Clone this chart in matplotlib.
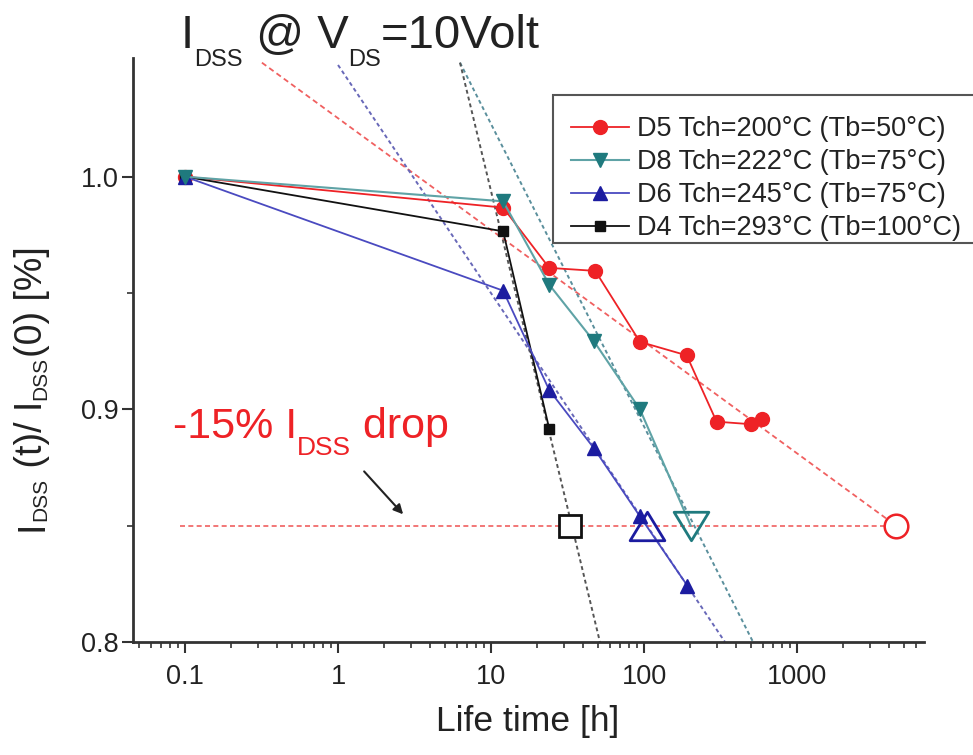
import matplotlib
matplotlib.use("Agg")
import matplotlib.pyplot as plt
from matplotlib.patches import Rectangle
from matplotlib.path import Path

plt.rcParams['font.family'] = ['Liberation Sans', 'DejaVu Sans']

# ---- data ----
d5_t = [0.1, 12, 24, 48, 94, 190, 298, 500, 588]
d5_v = [1.0, 0.9867, 0.9608, 0.9595, 0.929, 0.9232, 0.8947, 0.8936, 0.896]
d8_t = [0.1, 12, 24, 47, 94]
d8_v = [1.0, 0.9894, 0.9536, 0.9293, 0.900]
d6_t = [0.1, 12, 24, 47, 94, 192]
d6_v = [1.0, 0.951, 0.9083, 0.8833, 0.854, 0.8242]
d4_t = [0.1, 12, 24]
d4_v = [1.0, 0.9765, 0.8917]

# lifetime at -15% drop (extrapolated)
life_t = {'D5': 4440, 'D8': 202, 'D6': 105, 'D4': 33}
drop_level = 0.85

# extrapolation fit lines (endpoints)
d5_fit_t = [0.318, 4440]
d5_fit_v = [1.049, 0.85]
d8_fit_t = [6.27, 516]
d8_fit_v = [1.049, 0.80]
d6_fit_t = [1.0, 338]
d6_fit_v = [1.048, 0.80]
d4_fit_t = [6.27, 51.5]
d4_fit_v = [1.049, 0.80]

drop_line_t = [0.093, 4440]

labels = ['D5 Tch=200°C (Tb=50°C)', 'D8 Tch=222°C (Tb=75°C)',
          'D6 Tch=245°C (Tb=75°C)', 'D4 Tch=293°C (Tb=100°C)']
xtick_vals = [0.1, 1, 10, 100, 1000]
xtick_labels = ['0.1', '1', '10', '100', '1000']
ytick_vals = [0.8, 0.9, 1.0]
ytick_labels = ['0.8', '0.9', '1.0']

# ---- colours ----
red = '#ee2226'
teal_line = '#5fa3a6'
teal_mk = '#1f7a7e'
blue_line = '#4a4ac0'
blue_mk = '#1c1ca0'
black = '#111111'
txt = '#222222'

W, H = 973, 755
fig = plt.figure(figsize=(W / 100, H / 100), dpi=100)
ax = fig.add_axes([133/W, 1-642/H, (924-133)/W, (642-58)/H])

# fit lines
ax.plot(d5_fit_t, d5_fit_v, color='#f06060', lw=1.3, dashes=(3, 2), zorder=1)
ax.plot(d8_fit_t, d8_fit_v, color='#5a8f9c', lw=1.4, dashes=(2, 1.6), zorder=1)
ax.plot(d6_fit_t, d6_fit_v, color='#6868b8', lw=1.4, dashes=(2, 1.6), zorder=1)
ax.plot(d4_fit_t, d4_fit_v, color='#555555', lw=1.4, dashes=(2, 1.6), zorder=1)
ax.plot(drop_line_t, [drop_level, drop_level], color='#f06060', lw=1.2, dashes=(3, 2), zorder=1)

# teal line continues to its lifetime point
ax.plot([d8_t[-1], life_t['D8']], [d8_v[-1], drop_level], color=teal_line, lw=1.5, zorder=2)

h5, = ax.plot(d5_t, d5_v, color=red, lw=1.3, marker='o', ms=10, mfc=red, mec=red, zorder=3)
h4, = ax.plot(d4_t, d4_v, color=black, lw=1.3, marker='s', ms=7, mfc=black, mec=black, zorder=3.5)
h6, = ax.plot(d6_t, d6_v, color=blue_line, lw=1.3, marker='^', ms=10, mfc=blue_mk, mec=blue_mk, zorder=4)
h8, = ax.plot(d8_t, d8_v, color=teal_line, lw=1.5, marker='v', ms=10, mfc=teal_mk, mec=teal_mk, zorder=4.5)

# open lifetime markers (slightly flattened triangles)
tri_up = Path([(0, 0.82), (-1, -0.82), (1, -0.82), (0, 0.82)],
              [Path.MOVETO, Path.LINETO, Path.LINETO, Path.CLOSEPOLY])
tri_dn = Path([(0, -0.82), (-1, 0.82), (1, 0.82), (0, -0.82)],
              [Path.MOVETO, Path.LINETO, Path.LINETO, Path.CLOSEPOLY])
ax.plot([life_t['D4']], [drop_level], marker='s', ms=16, mfc='white', mec=black, mew=2, ls='none', zorder=5)
ax.plot([life_t['D6']], [drop_level], marker=tri_up, ms=25, mfc='none', mec=blue_mk, mew=2, ls='none', zorder=5)
ax.plot([life_t['D8']], [drop_level], marker=tri_dn, ms=25, mfc='none', mec=teal_mk, mew=2, ls='none', zorder=5)
ax.plot([life_t['D5']], [drop_level], marker='o', ms=17, mfc='white', mec=red, mew=1.8, ls='none', zorder=5)

ax.set_xscale('log')
ax.set_xlim(0.0457, 6760)
ax.set_ylim(0.8, 1.051)

ax.set_xticks(xtick_vals)
ax.set_xticklabels(xtick_labels)
ax.set_yticks(ytick_vals)
ax.set_yticklabels(ytick_labels)
ax.set_yticks([0.85, 0.95], minor=True)

for s in ['top', 'right']:
    ax.spines[s].set_visible(False)
for s in ['left', 'bottom']:
    ax.spines[s].set_linewidth(2)
    ax.spines[s].set_color('#333333')
ax.tick_params(axis='both', which='major', direction='out', length=8, width=1.5,
               labelsize=19.5, colors='#333333', labelcolor=txt)
ax.tick_params(axis='y', which='major', pad=2)
ax.tick_params(axis='both', which='minor', direction='out', length=4, width=1.2, colors='#333333')
ax.tick_params(axis='x', which='major', pad=8)

# arrow
ax.annotate('', xy=(2.74, 0.854), xytext=(1.44, 0.8742),
            arrowprops=dict(arrowstyle='-|>', color=txt, lw=1.5, mutation_scale=14))

renderer = fig.canvas.get_renderer()


def seq_text(x_px, y_px, pieces, color, rotate=False):
    """Draw text pieces one after the other; pieces = (string, size, drop_px)."""
    pos = x_px if not rotate else y_px
    for s, size, drop in pieces:
        if not rotate:
            t = fig.text(pos / W, 1 - (y_px + drop) / H, s, fontsize=size, color=color,
                         ha='left', va='baseline')
            pos += t.get_window_extent(renderer).width
        else:
            t = fig.text((x_px + drop) / W, 1 - pos / H, s, fontsize=size, color=color,
                         ha='left', va='baseline', rotation=90, rotation_mode='anchor')
            pos -= t.get_window_extent(renderer).height


# title
seq_text(181, 48, [('I', 34, 0), ('DSS', 17, 18), (' @ V', 34, 0), ('DS', 17, 18),
                   ('=10Volt', 34, 0)], txt)
# -15% annotation
seq_text(173, 438, [('-15% I', 31, 0), ('DSS', 19, 17), (' drop', 31, 0)], red)
# y label
seq_text(42, 531, [('I', 27, 0), ('DSS', 15, 4), (' (t)/ I', 27, 0), ('DSS', 15, 4),
                   ('(0) [%]', 27, 0)], txt, rotate=True)
# x label
fig.text(528 / W, 1 - 722 / H, 'Life time [h]', fontsize=25.5, color=txt, ha='center', va='center')

# legend frame drawn separately (box runs off the right edge, as in the original)
frame = Rectangle((553 / W, 1 - 243 / H), 500 / W, 148 / H, transform=fig.transFigure,
                  facecolor='white', edgecolor='#555555', lw=1.5, zorder=3)
fig.add_artist(frame)
leg = fig.legend([h5, h8, h6, h4], labels, loc='upper left',
                 bbox_to_anchor=(571 / W, 1 - 116 / H), borderaxespad=0, borderpad=0,
                 fontsize=19.5, frameon=False, handlelength=2.15, handletextpad=0.3,
                 labelspacing=0.26)
leg.set_zorder(5)
for t in leg.get_texts():
    t.set_color(txt)

fig.savefig('out.png', dpi=100)
